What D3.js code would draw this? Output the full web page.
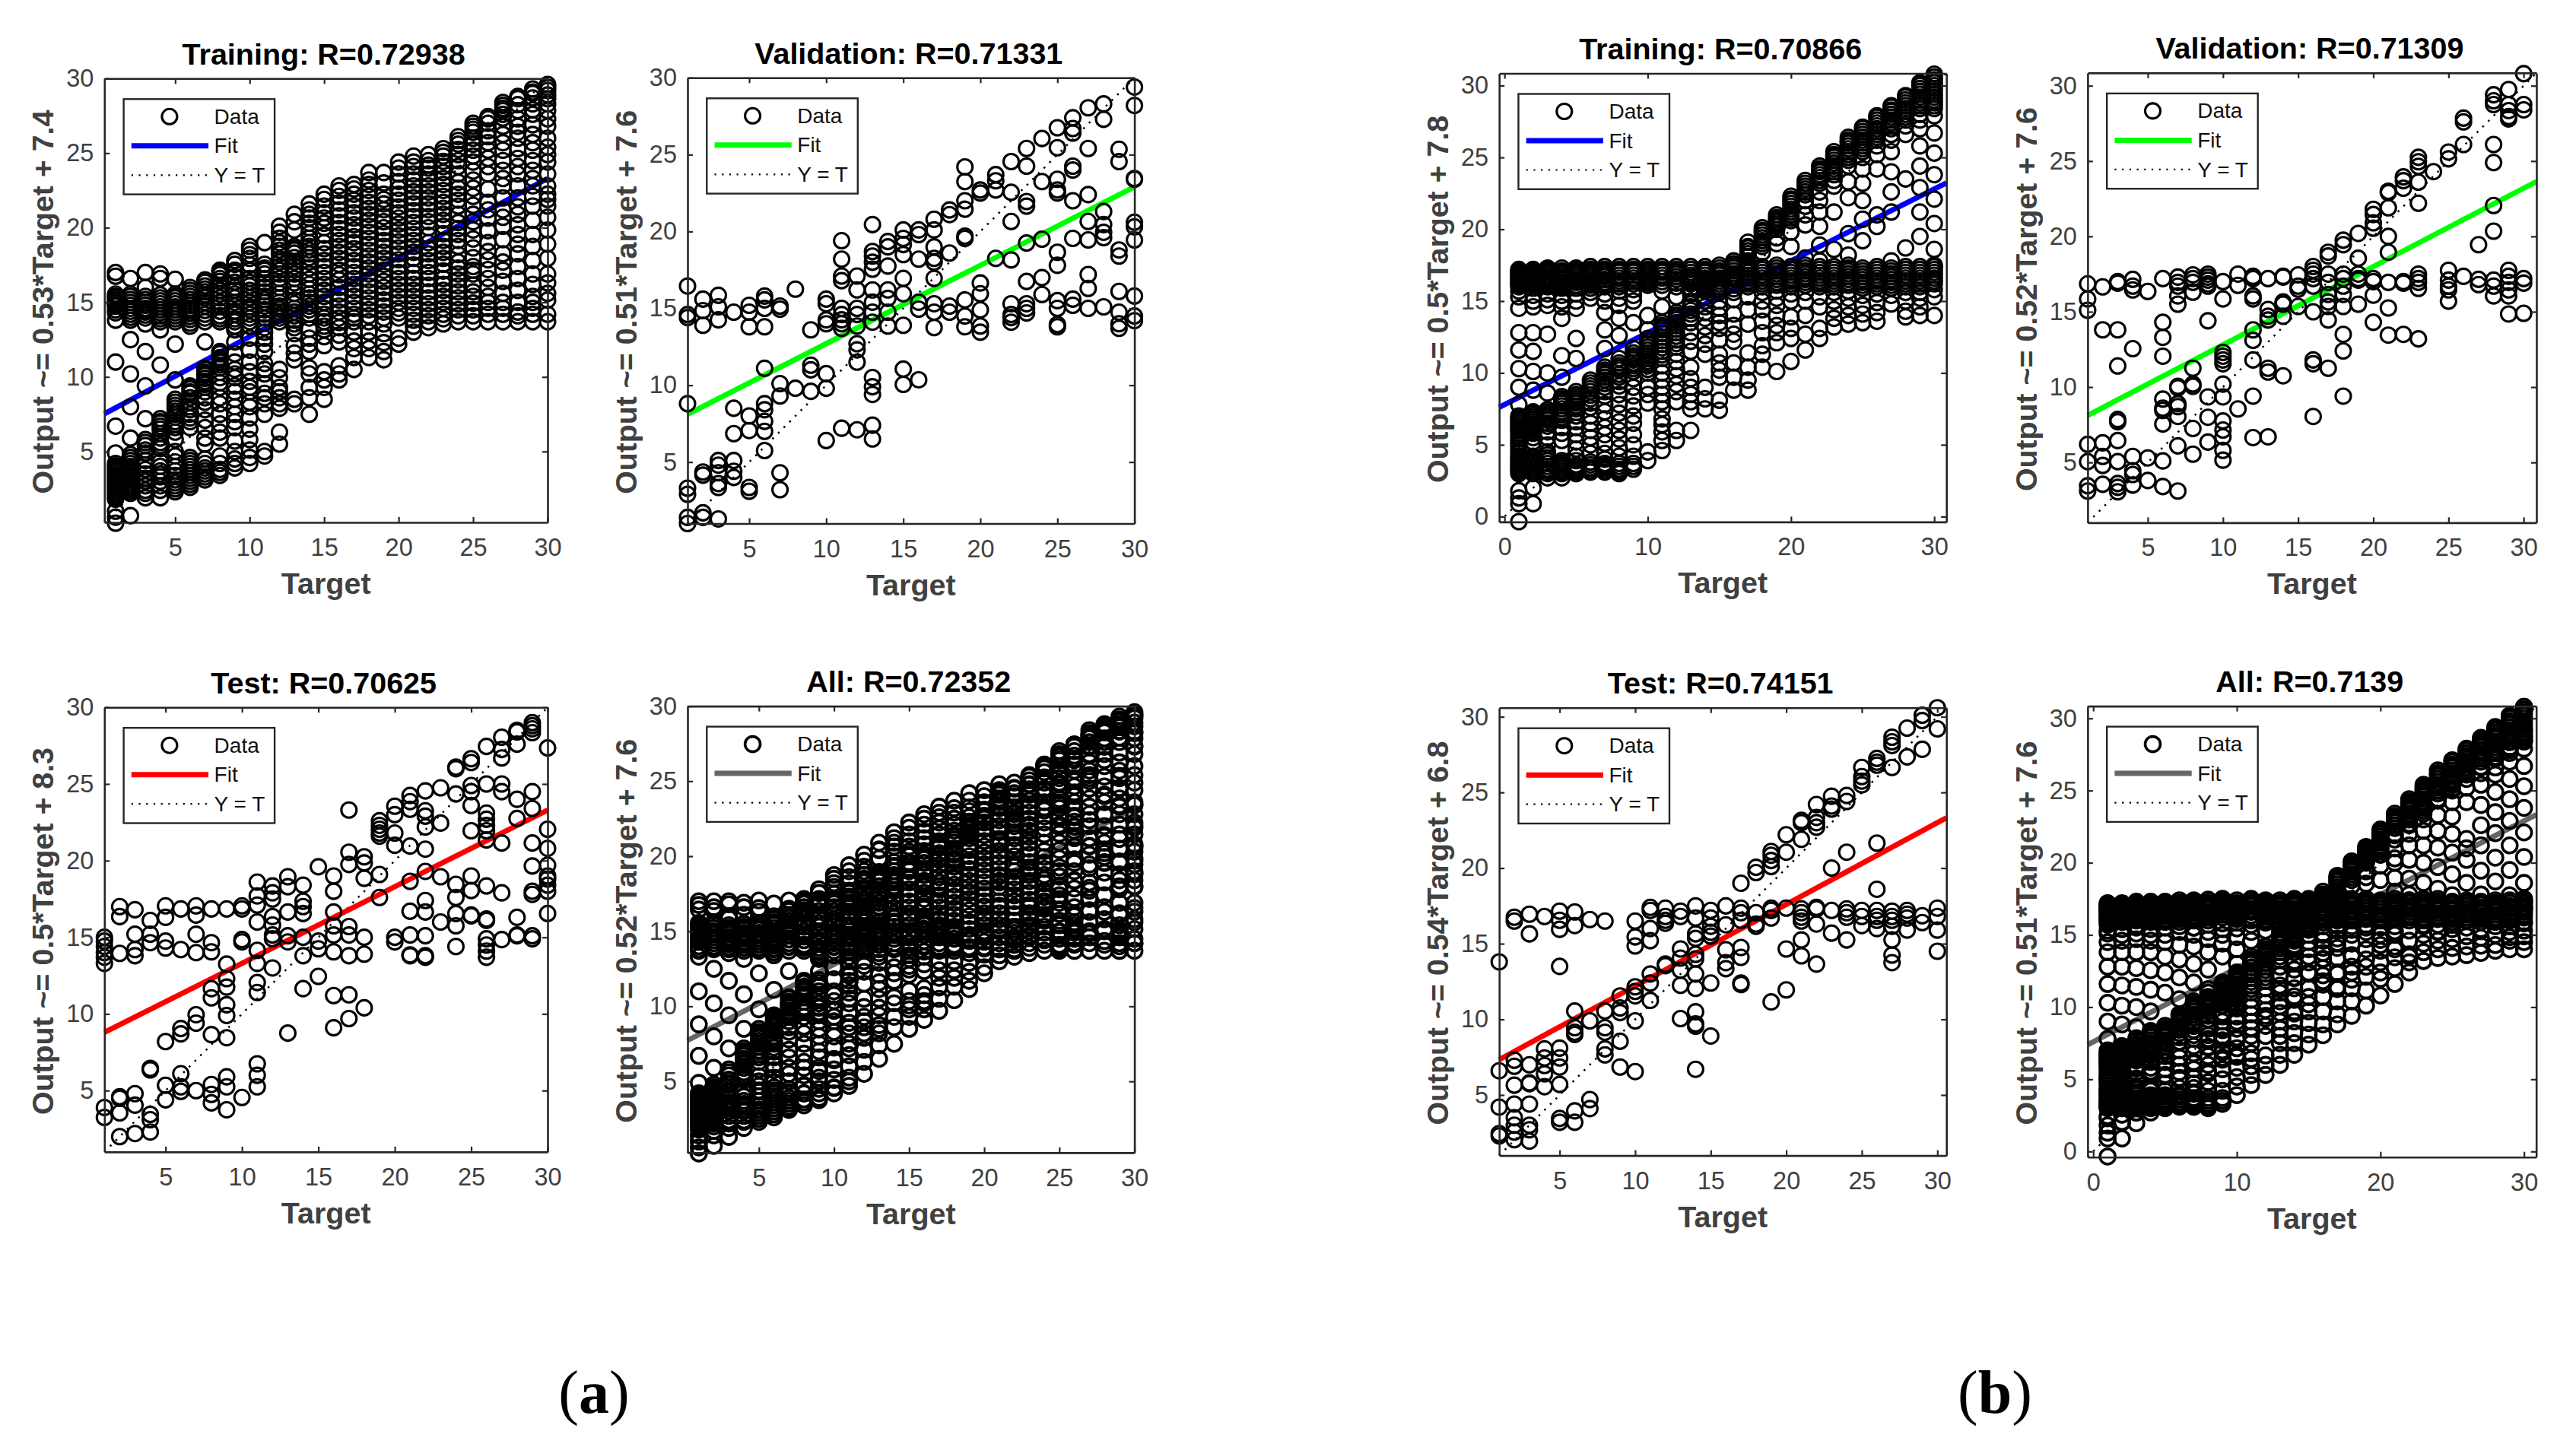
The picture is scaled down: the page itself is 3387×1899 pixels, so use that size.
<!DOCTYPE html>
<html lang="en">
<head>
<meta charset="utf-8">
<title>Regression plots</title>
<script src="https://cdn.jsdelivr.net/npm/d3@7"></script>
<style>
  html, body { margin: 0; padding: 0; background: #fff; }
  text { font-family: "Liberation Sans", Arial, sans-serif; }
  .tick text { fill: #404040; font-size: 32.5px; font-family: "Liberation Sans", Arial, sans-serif; }
</style>
</head>
<body>
<svg id="svg" width="3387" height="1899"></svg>
<script>
// target values on the x axis, one row of outputs per target in the arrays below
var targets = d3.range(1, 31);

var aTrainingY = [
 [0.2,0.6,1,1.8,2.1,2.4,2.7,3,3.3,3.6,3.9,4.2,4.9,6.7,11,13.8,14.75,15,15.3,15.55,16.75,17],
 [0.7,2.2,2.5,2.8,3.1,3.4,3.7,4,4.4,4.6,5.9,8,10.2,12.5,13.8,14.2,14.6,15,15.4,16.6],
 [1.9,2.4,3,3.5,4.1,4.9,5.4,5.8,7.2,9.4,11.7,13.55,13.95,14.35,14.6,15,16,17],
 [1.9,2.7,3.3,3.7,4.3,5.4,5.9,6.5,7,10.8,13.15,13.7,14.1,14.5,14.9,15.3,16.6,16.9],
 [2.3,2.7,3.1,3.7,4.3,5,5.8,6.3,7,7.5,7.9,8.3,9.8,12.2,13.7,14.1,14.5,14.9,15.3,15.55,16.55],
 [2.6,3,3.4,3.8,4.2,4.6,6.6,7.25,7.8,8.3,8.9,9.3,13.4,13.85,14.25,14.6,15,15.4,16],
 [3.1,3.5,3.9,4.5,5.5,5.9,6.6,7.1,7.8,8.3,9,9.7,10.2,10.5,12.35,13.7,14.2,14.75,15.3,15.7,16.1,16.35],
 [3.4,3.8,4.7,5.9,6.3,6.85,7.5,8.2,8.6,9.3,9.95,10.6,11.15,11.55,13.7,14.1,14.75,15.3,16.1,16.6,17.15],
 [3.9,4.5,5.7,6.6,7.5,8.5,9.4,9.95,10.5,11.55,12.35,13.15,13.7,14.2,14.75,15.3,15.8,16.35,17.15,17.55,17.8],
 [4.2,5.1,5.8,6.5,7.25,8.3,9,9.7,10.35,11,11.8,12.6,13.4,13.95,14.5,15,15.55,16.35,17.15,17.95,18.5,18.75],
 [4.7,7.5,8.2,8.9,9.55,10.2,10.9,11.7,12.6,13.3,13.95,14.5,15,15.4,16.6,17.15,17.55,19],
 [5.5,6.3,7.9,8.6,9.3,9.95,10.5,13.95,14.35,14.75,15.3,16,16.6,17.15,17.7,18.25,18.75,19.3,19.7,20.1],
 [8.2,11.15,12.1,12.9,13.55,14.1,14.6,15.15,16,16.6,17.15,17.7,18.5,18.75,19.85,20.9],
 [7.5,8.6,9.3,10.2,11.7,12.6,13.95,14.5,15,15.55,16.2,16.9,17.7,18.25,18.75,19.3,20,20.65,21.2,21.6],
 [8.5,9.3,10.35,12.1,13.15,13.7,14.2,15,15.8,16.6,17.4,18.25,19,20,20.65,21.45,22.25],
 [9.8,10.75,12.35,13.3,13.95,14.75,15.55,16.5,17.15,17.95,18.75,19.55,20.35,21.2,22.1,22.8],
 [10.5,11.3,12.4,13.7,14.2,15,15.8,16.6,17.4,18.25,19,19.85,20.65,21.45,22.25,22.9],
 [11.3,12.4,13.7,14.5,15.3,16.1,16.9,17.7,18.5,19.3,20.1,20.9,21.7,22.5,23.2,23.7],
 [11.15,12.3,13.55,14.35,15.15,16,16.75,17.55,18.35,19.15,20,20.75,21.6,22.25,23.7],
 [12.2,13.95,14.6,15.4,16.2,17,17.85,18.65,19.45,20.25,21,21.85,22.65,23.6,24.4],
 [13,13.8,14.6,15.4,16.2,17,17.95,18.75,19.55,20.35,21.15,22,22.8,23.6,24.1,24.8],
 [13.3,14.1,14.9,15.7,16.6,17.4,18.25,19,20,20.75,21.6,22.4,23.2,24,24.5,24.9],
 [13.55,14.2,15,15.8,16.6,17.55,18.35,19.15,20.1,20.9,21.7,22.5,23.3,24.1,24.8,25.3],
 [13.7,14.5,15.3,16.1,16.9,17.7,18.75,19.55,20.35,21.45,22.25,23.05,24.1,24.9,25.6,26.1],
 [13.7,14.5,15.4,16.9,17.4,18.65,19.85,20.9,22.1,23.2,24.4,25.2,26,26.8],
 [13.7,14.2,15,16.6,17.85,19,20.65,21.7,23.6,24.65,25.7,26.5,27.45],
 [13.7,14.2,15,17.15,18.25,20.1,21.2,22.8,23.85,25.2,26.25,27.35,27.85,28.2],
 [13.7,14.35,16.6,18.25,19.55,20.9,22,23.6,24.65,26,26.8,27.85,28.65],
 [13.7,14.2,15,16.9,18.75,19.55,21.45,22.8,23.85,25.2,26.25,27.6,28.3,29.1],
 [13.7,14.2,15.15,16.9,17.95,19.85,21.45,22.25,22.8,24.4,24.9,26,26.8,27.85,28.65,29.2,29.6]
];

// more circles from the dark parts of the same training panel
var aTrainingDarkY = [
 [1.95,2.25,2.55,2.85,3.15,3.45,3.75,4.05,14.3,14.5,14.85,15.15,15.4],
 [2.35,2.65,2.95,3.25,3.55,3.85,4.2,4.8,14,14.4,14.8,15.2,15.55],
 [2.2,2.7,3.2,3.8,4.4,5.1,5.6,14.15,14.45,14.8,15.2,15.4],
 [2.4,3,3.5,4,5.2,5.6,6.2,6.7,6.9,7.2,13.9,14.3,14.7,15.1,15.5],
 [2.5,2.9,3.4,4,4.7,6.6,6.8,7.3,7.7,8.1,8.5,13.9,14.3,14.7,15.1,15.4],
 [2.8,3.2,3.6,4,4.4,7,7.5,8,8.6,9,9.2,9.4,13.6,14.05,14.45,14.8,15.2,15.6,15.8],
 [3.3,3.7,4.2,8.6,9.3,9.5,9.9,10.1,10.3,10.6,13.95,14.45,15,15.5,15.9,16.5],
 [3.6,4.2,9.6,10.3,10.8,11,11.3,11.7,13.9,14.4,15,15.55,15.8,16.4,16.85,17],
 [4.2,5,7,8,9,10.2,11,13.4,13.9,14.4,15,15.55,16,16.7,17],
 [4.6,8,9.3,13.7,14.2,14.7,15.3,15.8,16.1,16.6,17.5,18.2],
 [5,8.6,10.5,12.2,13,13.6,14.2,14.75,15.2,15.7,16,16.3,16.9,17.3],
 [8.2,9,13.7,14.15,14.55,15,15.6,16.3,16.9,17.4,17.9,18.5,19],
 [8.5,11.6,13.3,13.8,14.35,14.9,15.6,16.3,16.9,17.4,18,18.3,18.6,20.4],
 [10.6,12.2,13.2,14.2,14.75,15.3,15.9,16.55,17.3,18,18.5,19,19.6,20.3,20.9],
 [9.8,12.7,13.4,13.95,14.6,15.4,16.2,17,17.8,18.6,19.5,20.3,21,21.9],
 [10.2,12.8,13.65,14.35,15.15,16,16.85,17.55,18.35,19.15,19.95,20.8,21.65,22.5],
 [11.9,13,13.95,14.6,15.4,16.2,17,17.8,18.6,19.4,20.2,21,21.85,22.6],
 [11.9,13,14.1,14.9,15.7,16.5,17.3,18.1,18.9,19.7,20.5,21.3,22.1,22.9],
 [11.7,12.9,13.95,14.75,15.6,16.4,17.15,17.95,18.75,19.6,20.4,21.2,21.9,23],
 [12.6,14.3,15,15.8,16.6,17.4,18.25,19.05,19.85,20.65,21.4,22.25,23.1,24],
 [13.4,14.2,15,15.8,16.6,17.5,18.35,19.15,19.95,20.75,21.6,22.4,23.2,24.4],
 [13.7,14.5,15.3,16.15,17,17.8,18.6,19.5,20.4,21.2,22,22.8,23.6,24.2],
 [13.9,14.6,15.4,16.2,17.1,17.95,18.75,19.6,20.5,21.3,22.1,22.9,23.7,24.45,25.05],
 [14.1,14.9,15.7,16.5,17.3,18.2,19.15,19.95,20.9,21.85,22.65,23.6,24.5,25.25,25.85],
 [14.1,14.95,15.7,16.15,17.15,18,19.25,20.4,21.5,22.65,23.8,24.8,25.6,26.4,26.6,27],
 [14.6,15.4,16,17.2,18.4,19.8,21.2,22.6,24.1,25.2,26.1,27,27.3],
 [14.6,15.6,16.4,17.7,19.2,20.7,22,23.3,24.5,25.7,26.8,27.6,28,28.4],
 [14.1,15,15.8,17.4,18.9,20.2,21.4,22.8,24.1,25.3,26.4,27.3,28.25,28.8],
 [14.6,15.4,16.2,17.8,20.5,22.1,23.3,24.5,25.7,26.9,27.9,28.7,29,29.3],
 [15.6,16.3,18.9,20.7,21.9,23.6,25.4,27.3,28.3,28.9,29.4]
];

var aValidationY = [
 [16.45,14.6,14.4,8.8,3.3,2.9,1.4,1],
 [15.6,14.85,13.9,4.35,4.15,1.7,1.4],
 [15.85,15.1,14.25,5.1,4.8,4.3,3.6,3.35,1.3],
 [14.75,8.5,6.85,5.1,4.4,4],
 [15.2,14.75,13.8,8,7.05,3.35,3.1],
 [15.8,15.55,15,13.8,11.1,8.8,8.4,7.65,7,5.75],
 [15.15,14.95,10.1,9.3,4.3,3.2],
 [16.25,9.8],
 [13.6,11.3,11,9.6],
 [15.6,15.3,14.25,14,10.75,9.8,6.4],
 [19.4,18.2,17.1,16.8,15,14.6,14.25,14,13.7,7.2],
 [17.1,16.2,15,14.6,13.85,12.7,12.3,11.5,7.1],
 [20.45,18.7,18.4,18,17.55,16.2,15.4,14.75,14.1,10.5,9.9,9.4,7.4,6.5],
 [19.35,19,17.75,16.2,15.65,14.75,13.85],
 [20.1,19.55,19.15,18.5,16.95,15.95,13.9,11.05,10.05],
 [20.1,19.8,18.2,15.4,14.95,10.35],
 [20.8,20.1,19,18.25,18,16.95,15.3,14.75,13.75],
 [21.4,21.1,18.6,15.15,14.75],
 [24.2,23.25,22,21.45,19.7,19.55,15.55,14.5,13.8],
 [22.7,22.5,16.65,15.95,14.9,13.85,13.45],
 [23.7,23.3,22.7,18.25],
 [24.55,22.55,20.65,18.15,15.3,14.6,14.4,14.1],
 [25.4,24.25,21.95,21.65,19.25,16.75,15.3,15,14.7],
 [26.05,23.25,19.5,17,15.9],
 [26.75,25.45,23.4,22.7,22.5,18.65,17.8,15.5,15,13.95,13.8],
 [27.4,26.7,26.4,24.25,24,22,19.55,15.6,15.2],
 [28.05,25.4,22.4,20.65,19.45,17.2,16.3,15],
 [28.3,27.3,21.3,20.45,19.95,19.6,15.1],
 [25.35,24.55,18.8,18.4,16.1,14.75,14,13.7],
 [29.4,28.2,23.45,23.4,20.6,20.3,19.45,15.8,14.5,14.2]
];

var aTestY = [
 [15,14.75,14.4,14,13.7,13.3,3.9,3.25],
 [17,16.35,13.95,4.6,4.5,3.55,2],
 [16.8,15.2,14.2,13.8,4.8,4.05,2.2],
 [16.1,15.2,14.65,6.45,6.35,3.45,3.1,2.3],
 [17.05,16.3,14.75,14.3,8.2,5.35,4.4],
 [16.85,14.2,9.05,8.7,6.1,5.25,4.95],
 [17.05,16.45,15.2,14,9.95,9.4,5],
 [16.85,14.65,14.05,11.65,11.05,8.65,5.4,4.75,4.2],
 [16.85,13.25,12.3,11.75,10.6,9.9,8.45,5.9,5.25,3.75],
 [17.05,16.85,14.85,14.7,4.55],
 [18.6,17.7,17.1,16,14.15,13.3,12.05,11.4,6.75,6,5.25],
 [18.35,17.9,17.5,16.35,15.8,15.15,14.9,13],
 [18.95,18.3,16.65,15.1,14.7,8.75],
 [18.4,17.35,17,16.55,15,13.8,11.65],
 [19.6,14.75,14.25,12.45],
 [19,18,16.65,15.75,15.15,14.05,11.2,9.1],
 [23.3,20.55,19.75,15.7,15.15,13.8,11.25,9.7],
 [20.25,19.85,18.85,15,13.9,10.4],
 [22.6,22.3,22.05,21.8,21.6,19.1,17.6],
 [23.55,23,21.8,21,15,14.7],
 [24.25,23.85,23.35,20.95,18.65,16.7,15.15,13.85,13.8],
 [24.55,23.25,22.9,22.2,20.75,19.3,17.4,16.65,15.1,13.8,13.7],
 [24.75,22.45,18.95,16],
 [26.1,26,24.35,18.45,17.6,16.55,15.75,14.4],
 [26.65,26.4,24.9,24.5,23.6,21.95,19,18.05,16.45,16.4],
 [27.45,25,23.1,22.7,22.3,21.95,21.35,18.35,16.2,16.1,14.9,14.5,14.1,13.7],
 [28.05,27.25,26.7,25,24.5,21.15,17.9,14.85],
 [28.5,28.4,27.6,24,22.75,16.3,15.15,15.1],
 [29,28.8,28.6,28.35,24.5,23.4,21.15,19.65,18,17.8,15.1,14.9],
 [27.35,22.05,20.8,19.7,19,18.8,18.4,18,16.55]
];

var bTrainingY = [
 [-0.35,0.9,1.3,1.8,3,3.3,3.6,3.9,4.2,4.6,5,5.4,5.8,6.1,6.4,6.7,7,7.8,9,10.3,11.6,12.8,14.5,15.3,15.7,16,16.2,16.4,16.6,16.8,17],
 [0.9,2,3,3.3,3.6,3.9,4.2,4.9,5.5,6,6.3,6.6,6.9,7.2,8.8,10.1,11.5,12.8,14.6,15,15.4,15.9,16.2,16.4,16.6,16.8,17.1],
 [2.7,3,3.3,3.7,4.1,4.5,5,5.5,5.9,6.3,6.7,7,7.3,8.6,10,12.7,14.7,15.1,15.5,16,16.3,16.5,16.7,17,17.2],
 [2.7,3,3.3,3.6,3.9,5.3,5.8,6.2,6.7,7.1,7.5,7.9,8.2,9.7,11.2,13.8,14.6,15,15.4,15.9,16.2,16.5,16.7,17],
 [3,3.3,3.6,4.2,4.7,5.2,5.7,6.2,6.6,7,7.5,7.9,8.2,8.5,11,12.4,14.5,15,15.5,15.9,16.3,16.6,16.9,17.2],
 [3.1,3.4,3.8,4.4,5,5.5,6,6.5,7,7.6,8.2,8.7,9.1,15.2,15.6,16.1,16.4,16.7,17,17.2],
 [3.1,3.4,3.7,4,4.4,5.1,5.7,6.2,6.8,7.3,7.8,8.4,9,9.5,9.9,10.2,11.7,13,14.2,15,15.5,16,16.3,16.7,17,17.2],
 [3,3.3,3.7,4.2,4.8,5.4,6,6.6,7.2,7.8,8.5,9.1,9.7,10.2,10.5,12.6,13.8,14.7,15.2,15.7,16.2,16.6,17,17.2],
 [3.3,3.7,4.2,5,5.7,6.5,7,7.7,8.4,9,9.6,10.1,10.5,10.9,11.2,13.5,15,15.4,15.8,16.2,16.6,17,17.2],
 [3.9,4.5,7.9,8.5,9,10,10.5,10.8,11.2,11.6,12,13,14,16.1,16.4,16.7,17,17.2],
 [4.6,5.3,5.9,6.4,6.8,7.5,8,8.5,9,9.5,10,10.5,11,11.5,12,12.5,13,13.3,14.6,15.7,16.1,16.6,17,17.2],
 [5.3,6,8,8.7,9.2,9.8,10.3,10.8,11.3,11.8,12.3,12.8,13.3,13.7,14,15.3,16,16.5,16.9,17.2],
 [6,7.5,8,8.5,9,9.6,10.4,11.5,12.2,12.8,13.5,14.1,14.6,15,15.5,15.9,16.2,16.5,16.8,17.2],
 [7.5,8.2,9,11.3,12,12.6,13.2,13.8,14.6,15.3,15.7,16,16.3,16.6,17,17.2],
 [7.4,8.1,9.7,10.2,10.7,11.3,12.3,13.1,13.5,14,14.5,15,15.6,16,16.4,16.8,17.1],
 [8.8,9.7,10.7,12.2,12.7,13.3,14.1,15.1,15.6,16.1,16.5,16.9,17.3,17.6],
 [8.8,9.5,10.4,11.4,13.4,14.4,15.3,16,16.4,16.8,17.2,17.6,18.1,18.5,18.8],
 [10.4,11.3,11.9,12.8,13.6,14.4,15,15.6,16,16.4,16.8,17.2,18.4,18.8,19.2,19.6,19.9],
 [10.1,12.1,12.8,13.3,14,14.7,15.2,15.7,16.1,16.5,16.9,17.3,19,19.4,20.2,20.5,20.8],
 [10.8,12.4,13.1,13.9,15,15.5,16,16.4,16.8,17.2,18.8,19.8,20.6,21,21.4,21.8,22.1],
 [11.6,12.7,14,15,15.6,16.1,16.5,16.9,17.3,18,20.3,21,21.6,22.4,22.8,23.2],
 [12.4,13.1,14.6,15.3,16,16.4,16.8,17.2,17.8,18.9,20.2,21.2,22,22.6,23.2,23.6,24,24.2],
 [13.2,13.8,14.4,15,15.6,16,16.4,16.8,17.2,18.6,21.2,23,23.4,23.8,24.2,24.6,25,25.2],
 [13.4,14,14.6,15.2,15.7,16.1,16.5,16.9,17.3,18.2,19.7,22.2,23.3,24.4,24.8,25.2,25.6,26,26.2],
 [13.5,14.1,14.7,15.4,15.9,16.3,16.7,17.1,19.2,20.7,22,23.2,24.2,25,25.4,25.8,26.2,26.6,27],
 [13.6,14.2,14.9,15.5,16,16.4,16.8,17.2,20.2,21,24.2,25.2,25.8,26.2,26.6,27,27.4,27.8],
 [14.8,15.4,15.9,16.3,16.7,17.1,17.8,21.2,22.6,24,25.4,26.2,26.6,27,27.4,27.8,28.2,28.5],
 [13.9,14.3,15,15.6,16,16.4,16.8,17.2,18.7,23.5,26.6,27.2,27.6,28,28.4,28.8,29.2],
 [14,14.6,15.2,15.6,16,16.4,16.8,17.2,19.5,21.2,22.9,24.4,25.8,27,27.6,28,28.4,28.8,29.2,29.6,30,30.2],
 [14,15.3,15.8,16.2,16.6,17,17.4,18.6,20.4,22.1,23.8,25.3,26.7,27.9,28.4,28.8,29.2,29.6,30,30.4,30.8]
];

var bTrainingDarkY = [
 [3.15,3.45,3.75,4.05,4.4,4.8,5.2,5.6,6,6.25,6.55,6.85,16.1,16.3,16.5,16.7,16.9,17.1,17.2],
 [3.15,3.45,3.75,4.05,5.2,5.8,6.15,6.45,6.75,7.05,7.3,16.1,16.3,16.5,16.7,16.9,17,17.2],
 [3.15,3.5,3.9,4.3,6.5,6.85,7.15,7.45,16.15,16.4,16.6,16.85,17.1,17.3],
 [3.15,3.45,3.75,6.9,7.3,7.7,8.05,8.35,16.05,16.35,16.6,16.85,17.1,17.3],
 [3.15,3.45,3.9,7.25,7.7,8.05,8.35,8.7,16.1,16.45,16.75,17.05,17.3],
 [3.25,3.6,7.9,8.45,8.9,9.3,9.5,15.9,16.25,16.55,16.85,17.1,17.4],
 [3.25,3.55,8.7,9.25,9.7,10.05,10.4,16.15,16.5,16.85,17.1,17.4],
 [3.15,3.5,9.4,9.9,10.35,10.7,11,16,16.4,16.8,17.1,17.4],
 [3.5,10.3,10.7,11.05,11.4,11.7,16.4,16.8,17.1,17.4],
 [10.25,10.65,11,11.4,11.8,12.2,12.4,16.25,16.55,16.85,17.1,17.4],
 [11.25,11.75,12.25,12.75,13.15,13.5,16.35,16.8,17.1,17.4],
 [12.05,12.55,13.05,13.5,13.85,14.2,16.25,16.7,17.05,17.4],
 [13.8,14.35,14.8,16.35,16.65,17,17.4],
 [14.2,15,15.85,16.15,16.45,16.8,17.1,17.4],
 [15.8,16.2,16.6,16.95,17.3,17.5],
 [15.85,16.3,16.7,17.1,17.45,17.8],
 [16.2,16.6,17,17.4,17.8,18.3,18.7,19.1],
 [16.2,16.6,17,17.4,19,19.4,19.8,20.1],
 [16.3,16.7,17.1,17.5,20,20.35,20.65,21],
 [16.2,16.6,17,17.4,20.8,21.2,21.6,22,22.3],
 [16.3,16.7,17.1,17.5,22,22.6,23,23.4],
 [16.2,16.6,17,17.4,23.4,23.8,24.1,24.4],
 [16.2,16.6,17,17.4,24,24.4,24.8,25.1,25.4],
 [16.3,16.7,17.1,17.5,25,25.4,25.8,26.1,26.4],
 [16.1,16.5,16.9,17.3,25.6,26,26.4,26.8,27.1],
 [16.2,16.6,17,17.4,26.4,26.8,27.2,27.6,27.9],
 [16.1,16.5,16.9,17.3,27.2,27.6,28,28.3,28.6],
 [16.2,16.6,17,17.4,27.8,28.2,28.6,29,29.3],
 [16.2,16.6,17,17.4,28.6,29,29.4,29.8,30.1],
 [16.4,16.8,17.2,17.5,28.6,29,29.4,29.8,30.2,30.6]
];

var bValidationY = [
 [16.85,15.85,15.1,6.2,5.05,3.45,3.1],
 [16.65,13.8,6.3,5.4,4.8,3.55],
 [17,16.9,13.8,11.4,7.85,7.7,6.45,5.05,3.6,3.35,3.05],
 [17.15,16.7,16.45,12.55,5.4,4.45,4.2,3.5],
 [16.35,5.3,3.8],
 [17.2,14.3,13.3,12.05,9.2,8.6,8.45,7.55,5.1,3.4],
 [17.3,16.95,16.7,16.05,15.5,10.05,9.95,8.9,8.7,8.05,6.1,3.1],
 [17.45,17.2,16.95,16.3,11.25,10.2,10.05,7.25,5.55],
 [17.5,17.3,17.1,16.85,16.7,14.4,9.35,8,6.35],
 [17,15.85,12.3,12.05,11.8,11.55,10.2,9.35,7.75,7.15,6.7,5.8,5.15],
 [17.5,16.75,8.55],
 [17.35,17.2,16.05,15.85,13.8,13.1,11.8,9.4,6.65],
 [17.2,15.15,14.7,14.45,11.25,11,6.7],
 [17.35,17.3,15.65,15.5,14.7,10.75],
 [17.45,16.7,16.5,15.35],
 [18,17.75,17.5,17.2,16.7,15,11.8,11.55,8.05],
 [18.95,18.7,17.5,16.95,16.15,15.65,15.35,14.45,11.25],
 [19.75,19.45,17.5,17.2,16.7,16.15,15.35,13.5,12.4,9.4],
 [20.2,18.55,17.5,17.2,17.1,15.5],
 [21.8,21.45,20.9,20.55,17.2,17,16.1,14.3],
 [23,22.9,21.9,20,18.95,16.95,15.25,13.45],
 [23.95,23.7,23.2,17,16.9,13.5],
 [25.25,24.95,24.65,23.6,22.2,17.5,17.2,16.95,16.55,13.2],
 [24.3],
 [25.6,25.15,17.75,17.1,16.7,16.45,15.7],
 [27.85,27.6,26.1,17.35],
 [19.45,17.15,16.8],
 [29.4,29,28.75,26.1,24.9,22.05,20.35,17.1,16.7,16.05],
 [29.75,28.75,28.35,27.95,27.8,17.75,17.35,16.95,16.45,16.05,14.85],
 [30.8,28.75,28.4,17.2,16.9,14.9]
];

var bTestY = [
 [13.8,6.6,4.2,2.45,2.3],
 [16.75,16.5,7.3,6.9,5.65,4.4,3.5,3,2.55,2.05],
 [16.95,15.65,7,5.8,5.75,4.4,3,2.7,1.95],
 [16.8,8.05,7.45,6.95,6.4,5.55],
 [17.15,16.55,15.95,13.5,8.1,7.45,6.85,5.7,3.45,3.2],
 [17.1,16.2,10.55,9.45,9.15,9,3.95,3.2],
 [16.6,9.9,4.7,4.1],
 [16.5,10.55,9.45,9.15,8.05,7.65],
 [11.55,10.75,10.45,8.55,6.85],
 [16.5,15.45,14.85,12.15,11.85,11.55,9.9,6.55],
 [17.4,17.2,16,15.2,13,12.4,11.25],
 [17.35,16.8,16.55,16.35,13.65,13.55],
 [17.15,16.8,14.65,14.05,13.25,12.25,10.05],
 [17.5,16.7,15.65,15.35,14.3,14,13,12.05,10.5,9.7,9.55,6.7],
 [17.2,16.7,16.15,15.75,15.5,12.4,8.9],
 [17.5,16.25,14.6,13.75,13.35],
 [19,17.35,17.05,16.55,14.75,14.1,12.4,12.3],
 [20.05,19.7,17.05,16.3,16.15],
 [21.1,20.85,20.5,20.1,17.35,17.2,16.7,11.15],
 [22.2,21.05,17.35,14.65,11.95],
 [23.15,23,21.9,17.3,17.05,16.75,16.5,15.25,14.2],
 [24.2,23.35,23,22.7,17.4,17.3,16.3,13.65],
 [24.75,24.1,23.9,20,17.2,15.7],
 [24.8,24.4,21.05,17.3,17.05,16.75,15.25],
 [26.65,26.05,25.75,25.5,17.2,16.8,16.2],
 [27.25,27,26.8,21.65,18.6,17.2,16.8,16.55,16],
 [28.65,28.35,28.1,26.65,17.15,16.8,16.55,16.15,15.25,14.25,13.75],
 [29.25,27.35,17.2,16.95,16.7,15.9],
 [30.1,29.75,27.85,16.85,16.4],
 [30.6,29.2,17.35,16.8,15.9,14.5]
];

function union(lists) {
  return targets.map(function(t, i) {
    return d3.merge(lists.map(function(l) { return l[i]; }));
  });
}
var aTrainingAll = union([aTrainingY, aTrainingDarkY]);
var bTrainingAll = union([bTrainingY, bTrainingDarkY]);
// every target is in exactly one of the three subsets, so All is their union
var aAllY = union([aTrainingAll, aValidationY, aTestY]);
var bAllY = union([bTrainingAll, bValidationY, bTestY]);

var titles = ["Training: R=0.72938", "Validation: R=0.71331", "Test: R=0.70625", "All: R=0.72352",
              "Training: R=0.70866", "Validation: R=0.71309", "Test: R=0.74151", "All: R=0.7139"];
var slopes = [0.53, 0.51, 0.5, 0.52, 0.5, 0.52, 0.54, 0.51];
var slopeLabels = ["0.53", "0.51", "0.5", "0.52", "0.5", "0.52", "0.54", "0.51"];
var intercepts = [7.4, 7.6, 8.3, 7.6, 7.8, 7.6, 6.8, 7.6];
var series = [aTrainingAll, aValidationY, aTestY, aAllY, bTrainingAll, bValidationY, bTestY, bAllY];
var limits = [[0.25, 30], [1, 30], [1, 30], [0.25, 30], [-0.37, 30.85], [1, 30.85], [1, 30.6], [-0.39, 30.85]];
var fiveTicks = [5, 10, 15, 20, 25, 30];
var xTicks = [fiveTicks, fiveTicks, fiveTicks, fiveTicks, [0, 10, 20, 30], fiveTicks, fiveTicks, [0, 10, 20, 30]];
var yTicks = [fiveTicks, fiveTicks, fiveTicks, fiveTicks, [0, 5, 10, 15, 20, 25, 30], fiveTicks, fiveTicks, [0, 5, 10, 15, 20, 25, 30]];
var fitColors = ["#0000ff", "#00ff00", "#ff0000", "#666666", "#0000ff", "#00ff00", "#ff0000", "#666666"];
var captions = ["a", "b"];

// plot boxes in page pixels: left, right, top, bottom
var boxes = [
  [137.3, 720, 103.3, 687], [904, 1491.6, 102.3, 688.5],
  [137.3, 720, 930.2, 1514.9], [904, 1491.6, 928.6, 1515.9],
  [1971.2, 2559.2, 96.5, 686.4], [2744.9, 3335, 95.9, 687.4],
  [1971.2, 2559.2, 930.7, 1519.6], [2744.9, 3334.7, 928.6, 1521.7]
];

var svg = d3.select("#svg");
svg.append("rect").attr("width", 3387).attr("height", 1899).attr("fill", "#fff");

function draw_panel(i) {
  var b = boxes[i];
  var x = d3.scaleLinear().domain(limits[i]).range([b[0], b[1]]);
  var y = d3.scaleLinear().domain(limits[i]).range([b[3], b[2]]);
  var g = svg.append("g");
  var ink = "#262626";

  // Y = T under everything
  g.append("line")
    .attr("x1", x(limits[i][0])).attr("y1", y(limits[i][0]))
    .attr("x2", x(limits[i][1])).attr("y2", y(limits[i][1]))
    .attr("stroke", "#000").attr("stroke-width", 2.5).attr("stroke-dasharray", "2.5 8");

  // fit line
  var fit = limits[i].map(function(t) { return [x(t), y(slopes[i] * t + intercepts[i])]; });
  g.append("path").attr("d", d3.line()(fit))
    .attr("stroke", fitColors[i]).attr("stroke-width", 7).attr("fill", "none");

  // data circles, unfilled, and not clipped at the box
  var pts = series[i].flatMap(function(ys, k) {
    return ys.map(function(v) { return { t: targets[k], v: v }; });
  });
  var isAll = i === 3 || i === 7;
  g.append("g").selectAll("circle").data(pts).join("circle")
    .attr("cx", function(d) { return x(d.t); })
    .attr("cy", function(d) { return y(d.v); })
    .attr("r", 10)
    .attr("fill", "none").attr("stroke", "#000").attr("stroke-width", isAll ? 3.6 : 3.1);

  // axes with ticks inside, mirrored on top and right
  var bottom = d3.axisBottom(x).tickValues(xTicks[i]).tickSizeInner(-7).tickSizeOuter(0).tickPadding(21);
  var left = d3.axisLeft(y).tickValues(yTicks[i]).tickSizeInner(-7).tickSizeOuter(0).tickPadding(14);
  var top = d3.axisTop(x).tickValues(xTicks[i]).tickSizeInner(-7).tickSizeOuter(0).tickFormat("");
  var right = d3.axisRight(y).tickValues(yTicks[i]).tickSizeInner(-7).tickSizeOuter(0).tickFormat("");
  var axes = [
    [bottom, "translate(0," + b[3] + ")"], [left, "translate(" + b[0] + ",0)"],
    [top, "translate(0," + b[2] + ")"], [right, "translate(" + b[1] + ",0)"]
  ];
  axes.forEach(function(a) {
    var ag = g.append("g").attr("transform", a[1]).call(a[0]);
    ag.selectAll(".domain").attr("stroke", ink).attr("stroke-width", 2.6);
    ag.selectAll(".tick line").attr("stroke", ink).attr("stroke-width", 2.2);
    ag.attr("font-size", null).attr("font-family", null);
  });

  var midX = (b[0] + b[1]) / 2, midY = (b[2] + b[3]) / 2;
  g.append("text").attr("x", midX - 3).attr("y", b[2] - 18.5)
    .attr("text-anchor", "middle").attr("font-size", 39.5).attr("font-weight", "bold").attr("fill", "#000")
    .text(titles[i]);
  g.append("text").attr("x", midX).attr("y", b[3] + 94)
    .attr("text-anchor", "middle").attr("font-size", 39.5).attr("font-weight", "bold").attr("fill", "#404040")
    .text("Target");
  g.append("text").attr("transform", "translate(" + (b[0] - 67) + "," + (midY + 2) + ") rotate(-90)")
    .attr("text-anchor", "middle").attr("font-size", 39.3).attr("font-weight", "bold").attr("fill", "#404040")
    .text("Output ~= " + slopeLabels[i] + "*Target + " + intercepts[i].toFixed(1));

  // legend
  var lx = b[0] + 25.3, ly = b[2] + 27;
  var lg = g.append("g");
  lg.append("rect").attr("x", lx).attr("y", ly).attr("width", 198.5).attr("height", 125.3)
    .attr("fill", "#fff").attr("stroke", ink).attr("stroke-width", 2.4);
  lg.append("circle").attr("cx", lx + 60.3).attr("cy", ly + 23).attr("r", 10)
    .attr("fill", "none").attr("stroke", "#000").attr("stroke-width", isAll ? 3.6 : 3.1);
  lg.append("line").attr("x1", lx + 10.2).attr("x2", lx + 111.5).attr("y1", ly + 61.5).attr("y2", ly + 61.5)
    .attr("stroke", fitColors[i]).attr("stroke-width", 7);
  lg.append("line").attr("x1", lx + 10.2).attr("x2", lx + 111.5).attr("y1", ly + 100).attr("y2", ly + 100)
    .attr("stroke", "#000").attr("stroke-width", 2.2).attr("stroke-dasharray", "2.2 7.5");
  ["Data", "Fit", "Y = T"].forEach(function(s, k) {
    lg.append("text").attr("x", lx + 119).attr("y", ly + 23 + k * 38.6 + 9.5)
      .attr("font-size", 28).attr("fill", "#111").text(s);
  });
}

boxes.forEach(function(b, i) { draw_panel(i); });

// (a) and (b) under each group
captions.forEach(function(c, i) {
  var t = svg.append("text").attr("x", i === 0 ? 781 : 2623).attr("y", 1858)
    .attr("text-anchor", "middle").attr("font-size", 80).style("font-family", '"Liberation Serif", serif');
  t.append("tspan").text("(");
  t.append("tspan").attr("font-weight", "bold").text(c);
  t.append("tspan").text(")");
});
</script>
</body>
</html>
